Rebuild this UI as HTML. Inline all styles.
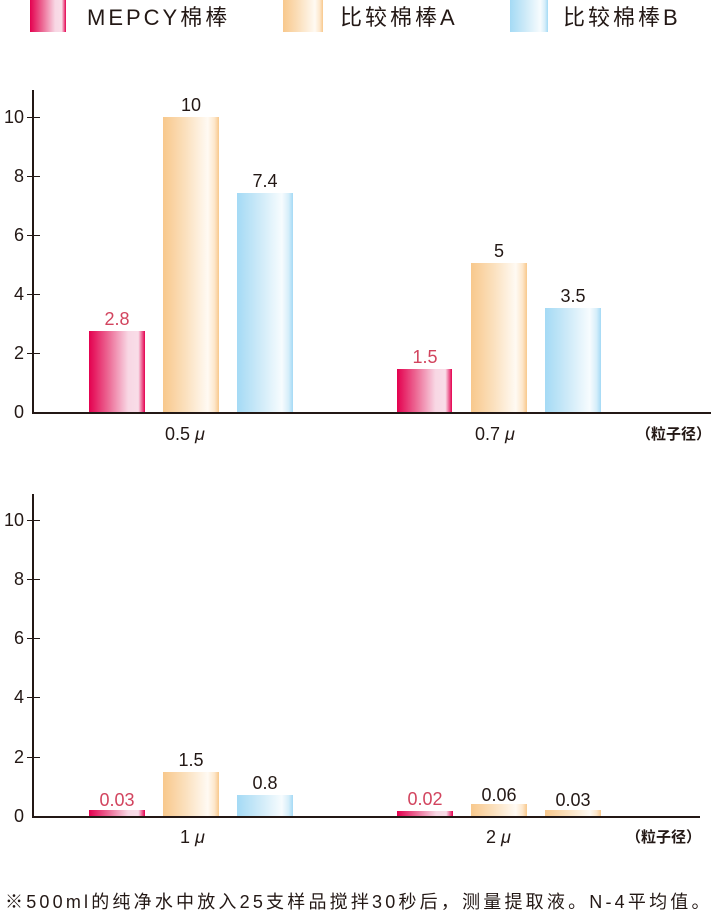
<!DOCTYPE html>
<html><head><meta charset="utf-8"><style>
body{margin:0;width:711px;height:915px;background:#fff;position:relative;overflow:hidden;font-family:"Liberation Sans","Noto Sans CJK SC",sans-serif;color:#231815}
div{position:absolute}
.p{background:linear-gradient(90deg,#e4004f 0%,#ec6a95 35%,#f8d7e4 70%,#f9dde8 88%,#e4004f 100%)}
.o{background:linear-gradient(90deg,#f8c88c 0%,#fbe0bd 40%,#fffaf3 80%,#fde7cb 92%,#f8c88c 100%)}
.b{background:linear-gradient(90deg,#a4daf5 0%,#cdeaf8 40%,#f7fcfe 80%,#d6eefa 92%,#a4daf5 100%)}
.ax{background:#231815}
.t{font-size:18px;text-align:right;width:24px;line-height:18px}
.v{font-size:18px;text-align:center;width:56px;line-height:18px}
.r{color:#d2445e}
.leg{font-size:22px;letter-spacing:3px;top:5px;line-height:26px;white-space:nowrap}
</style></head><body>
<div class="p" style="left:30px;top:0;width:36px;height:32px"></div>
<div class="leg" style="left:87px">MEPCY棉棒</div>
<div class="o" style="left:283px;top:0;width:40px;height:32px"></div>
<div class="leg" style="left:340px">比较棉棒A</div>
<div class="b" style="left:510px;top:0;width:38px;height:32px"></div>
<div class="leg" style="left:563px">比较棉棒B</div>

<!-- chart 1 -->
<div class="ax" style="left:32px;top:90px;width:2px;height:324px"></div>
<div class="ax" style="left:32px;top:412px;width:679px;height:2px"></div>
<div class="ax" style="left:27px;top:117px;width:13px;height:1px"></div>
<div class="ax" style="left:27px;top:176px;width:13px;height:1px"></div>
<div class="ax" style="left:27px;top:235px;width:13px;height:1px"></div>
<div class="ax" style="left:27px;top:294px;width:13px;height:1px"></div>
<div class="ax" style="left:27px;top:353px;width:13px;height:1px"></div>
<div class="t" style="left:0;top:108px">10</div>
<div class="t" style="left:0;top:167px">8</div>
<div class="t" style="left:0;top:226px">6</div>
<div class="t" style="left:0;top:285px">4</div>
<div class="t" style="left:0;top:344px">2</div>
<div class="t" style="left:0;top:403px">0</div>
<div class="p" style="left:89px;top:331px;width:56px;height:81px"></div>
<div class="o" style="left:163px;top:117px;width:56px;height:295px"></div>
<div class="b" style="left:237px;top:193px;width:56px;height:219px"></div>
<div class="v r" style="left:89px;top:310px">2.8</div>
<div class="v" style="left:163px;top:96px">10</div>
<div class="v" style="left:237px;top:172px">7.4</div>
<div class="p" style="left:397px;top:369px;width:55px;height:43px"></div>
<div class="o" style="left:471px;top:263px;width:56px;height:149px"></div>
<div class="b" style="left:545px;top:308px;width:56px;height:104px"></div>
<div class="v r" style="left:397px;top:348px">1.5</div>
<div class="v" style="left:471px;top:242px">5</div>
<div class="v" style="left:545px;top:287px">3.5</div>
<div style="left:165px;top:424px;font-size:18px">0.5 <i>μ</i></div>
<div style="left:475px;top:424px;font-size:18px">0.7 <i>μ</i></div>
<div style="left:636px;top:423px;font-size:15px;font-weight:bold">（粒子径）</div>

<!-- chart 2 -->
<div class="ax" style="left:32px;top:494px;width:2px;height:324px"></div>
<div class="ax" style="left:32px;top:816px;width:668px;height:2px"></div>
<div class="ax" style="left:27px;top:520px;width:13px;height:1px"></div>
<div class="ax" style="left:27px;top:579px;width:13px;height:1px"></div>
<div class="ax" style="left:27px;top:638px;width:13px;height:1px"></div>
<div class="ax" style="left:27px;top:697px;width:13px;height:1px"></div>
<div class="ax" style="left:27px;top:757px;width:13px;height:1px"></div>
<div class="t" style="left:0;top:511px">10</div>
<div class="t" style="left:0;top:570px">8</div>
<div class="t" style="left:0;top:629px">6</div>
<div class="t" style="left:0;top:688px">4</div>
<div class="t" style="left:0;top:748px">2</div>
<div class="t" style="left:0;top:807px">0</div>
<div class="p" style="left:89px;top:810px;width:56px;height:6px"></div>
<div class="o" style="left:163px;top:772px;width:56px;height:44px"></div>
<div class="b" style="left:237px;top:795px;width:56px;height:21px"></div>
<div class="v r" style="left:89px;top:791px">0.03</div>
<div class="v" style="left:163px;top:751px">1.5</div>
<div class="v" style="left:237px;top:774px">0.8</div>
<div class="p" style="left:397px;top:811px;width:56px;height:5px"></div>
<div class="o" style="left:471px;top:804px;width:56px;height:12px"></div>
<div class="o" style="left:545px;top:810px;width:56px;height:6px"></div>
<div class="v r" style="left:397px;top:790px">0.02</div>
<div class="v" style="left:471px;top:786px">0.06</div>
<div class="v" style="left:545px;top:791px">0.03</div>
<div style="left:180px;top:827px;font-size:18px">1 <i>μ</i></div>
<div style="left:486px;top:827px;font-size:18px">2 <i>μ</i></div>
<div style="left:626px;top:826px;font-size:15px;font-weight:bold">（粒子径）</div>

<div style="left:5px;top:888px;font-size:18px;letter-spacing:3.2px;white-space:nowrap">※500ml的纯净水中放入25支样品搅拌30秒后，测量提取液。N-4平均值。</div>
</body></html>
